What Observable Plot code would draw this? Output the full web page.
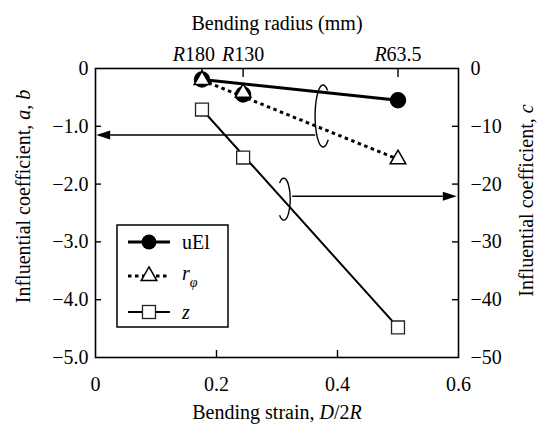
<!DOCTYPE html>
<html><head><meta charset="utf-8">
<script src="https://cdn.jsdelivr.net/npm/d3@7"></script>
<script src="https://cdn.jsdelivr.net/npm/@observablehq/plot@0.6"></script>
<style>body{margin:0;background:#fff}</style>
</head><body><div id="chart"></div>
<script>
// ---- data ----
const strain = [0.176, 0.244, 0.5];          // bending strain D/2R
const radiusLabels = ["R180", "R130", "R63.5"];
const uEl = [-0.19, -0.45, -0.55];           // coefficient a (left axis)
const rPhi = [-0.2, -0.42, -1.57];           // coefficient b (left axis)
const zC = [-7.1, -15.4, -44.8];             // coefficient c (right axis)
const xTicks = [0, 0.2, 0.4, 0.6];
const abTicks = [0, -1, -2, -3, -4, -5];
const cTicks = [0, -10, -20, -30, -40, -50];
const legendItems = ["uEl", "r_phi", "z"];
// annotation anchors (data units)
const leftArrow = {from: 0.364, to: 0.002, ab: -1.16};
const rightArrow = {from: 0.326, to: 0.598, c: -22.2};
const ringAB = {x: 0.377, ab: -0.83};
const ringC = {x: 0.312, c: -22.7};

const cScale = 10; // c axis = 10 x (a,b) axis
const rows = strain.map((x, i) => ({x, uEl: uEl[i], rPhi: rPhi[i], z: zC[i] / cScale}));
const ends = [rows[0], rows[rows.length - 1]];

const FONT = "Liberation Serif, DejaVu Serif, serif";
const W = 537, H = 425, mT = 68, mB = 68, mL = 95, mR = 79;
const innerH = H - mT - mB, innerW = W - mL - mR;
const fmtAB = d => d === 0 ? "0" : d3.format(".1f")(d);
const fmtC = d => d === 0 ? "0" : d3.format("d")(Math.round(d * cScale));

const chart = Plot.plot({
  width: W, height: H,
  marginTop: mT, marginBottom: mB, marginLeft: mL, marginRight: mR,
  style: {fontSize: "20px", background: "white", color: "black", overflow: "visible"},
  x: {domain: [0, 0.6]},
  y: {domain: [-5, 0]},
  marks: [
    Plot.frame({stroke: "black", strokeWidth: 1.6}),
    // inward ticks
    Plot.tickX([0.2, 0.4], {x: d => d, insetTop: innerH - 7, stroke: "black", strokeWidth: 1.4}),
    Plot.tickX(strain, {x: d => d, insetBottom: innerH - 9, stroke: "black", strokeWidth: 1.4}),
    Plot.tickY(abTicks.slice(1, -1), {y: d => d, insetRight: innerW - 6, stroke: "black", strokeWidth: 1.4}),
    Plot.tickY(abTicks.slice(1, -1), {y: d => d, insetLeft: innerW - 6, stroke: "black", strokeWidth: 1.4}),
    // axes (labels only)
    Plot.axisX({anchor: "bottom", ticks: xTicks, tickSize: 0, tickPadding: 19, tickFormat: d => d === 0 ? "0" : d3.format(".1f")(d), label: null}),
    Plot.axisX({anchor: "top", ticks: strain, tickSize: 0, tickPadding: 8, tickFormat: d => radiusLabels[strain.indexOf(d)], label: null}),
    Plot.axisY({anchor: "left", ticks: abTicks, tickSize: 0, tickPadding: 7, tickFormat: fmtAB, label: null}),
    Plot.axisY({anchor: "right", ticks: abTicks, tickSize: 0, tickPadding: 12, textAnchor: "start", tickFormat: fmtC, label: null}),
    // axis titles
    Plot.text(["Bending radius (mm)"], {frameAnchor: "top", text: d => d, textAnchor: "middle", lineAnchor: "middle", dy: -45}),
    Plot.text(["Bending strain, D/2R"], {frameAnchor: "bottom", text: d => d, textAnchor: "middle", lineAnchor: "middle", dy: 55}),
    Plot.text(["Influential coefficient, a, b"], {frameAnchor: "left", text: d => d, textAnchor: "middle", lineAnchor: "middle", rotate: -90, dx: -71.5, dy: -16.5}),
    Plot.text(["Influential coefficient, c"], {frameAnchor: "right", text: d => d, textAnchor: "middle", lineAnchor: "middle", rotate: -90, dx: 67.6, dy: -12.5}),
    // series lines
    Plot.line(ends, {x: "x", y: "uEl", stroke: "black", strokeWidth: 3}),
    Plot.line(ends, {x: "x", y: "rPhi", stroke: "black", strokeWidth: 3, strokeLinecap: "butt", strokeDasharray: "3.5,3.5"}),
    Plot.line(ends, {x: "x", y: "z", stroke: "black", strokeWidth: 2}),
    // markers
    Plot.dot(rows, {x: "x", y: "uEl", r: 7.5, fill: "black", stroke: "black"}),
    Plot.dot(rows, {x: "x", y: "rPhi", symbol: "triangle", r: 5.8, fill: "white", stroke: "black", strokeWidth: 1.5}),
    Plot.dot(rows, {x: "x", y: "z", symbol: "square", r: 7.3, fill: "white", stroke: "#222", strokeWidth: 1.3})
  ]
});

const NS = "http://www.w3.org/2000/svg";
function rich(svg, plain, parts, shift) {
  svg.querySelectorAll("text").forEach(t => {
    if (t.textContent === plain) {
      t.textContent = "";
      parts.forEach(p => {
        const ts = document.createElementNS(NS, "tspan");
        ts.textContent = p[0];
        if (p[1]) ts.setAttribute("font-style", "italic");
        t.appendChild(ts);
      });
      if (shift) t.setAttribute("dx", shift);
    }
  });
}
radiusLabels.forEach((l, i) => rich(chart, l, [["R", 1], [l.slice(1)]], i === 0 ? -8 : 0));
rich(chart, "Bending strain, D/2R", [["Bending strain, "], ["D", 1], ["/2"], ["R", 1]]);
rich(chart, "Influential coefficient, a, b", [["Influential coefficient, "], ["a", 1], [", "], ["b", 1]]);
rich(chart, "Influential coefficient, c", [["Influential coefficient, "], ["c", 1]]);

// ---- annotations & legend (d3, using Plot's scales) ----
const sx = chart.scale("x").apply, sy = chart.scale("y").apply;
const g = d3.select(chart).append("g");

function arc(cx, cy, rx, ry, a0, a1, sweep) {
  const p = a => [cx + rx * Math.cos(a * Math.PI / 180), cy + ry * Math.sin(a * Math.PI / 180)];
  const [x0, y0] = p(a0), [x1, y1] = p(a1);
  return `M${x0},${y0}A${rx},${ry} 0 1 ${sweep} ${x1},${y1}`;
}
// rings
g.append("path").attr("d", arc(sx(ringAB.x), sy(ringAB.ab), 8, 31, 305, 50, 0))
  .attr("fill", "none").attr("stroke", "black").attr("stroke-width", 1.4);
g.append("path").attr("d", arc(sx(ringC.x), sy(ringC.c / cScale), 6.5, 21, 230, 490, 1))
  .attr("fill", "none").attr("stroke", "black").attr("stroke-width", 1.4);
// arrows
function arrow(x1, x2, y) {
  const dir = Math.sign(x2 - x1), L = 14, hw = 4.5;
  g.append("line").attr("x1", x1).attr("x2", x2 - dir * L).attr("y1", y).attr("y2", y)
    .attr("stroke", "black").attr("stroke-width", 1.5);
  g.append("path").attr("d", `M${x2},${y}L${x2 - dir * L},${y - hw}L${x2 - dir * L},${y + hw}Z`).attr("fill", "black");
}
arrow(sx(leftArrow.from), sx(leftArrow.to), sy(leftArrow.ab));
arrow(sx(rightArrow.from), sx(rightArrow.to), sy(rightArrow.c / cScale));

// legend
const lg = g.append("g");
lg.append("rect").attr("x", 117).attr("y", 225).attr("width", 111).attr("height", 102)
  .attr("fill", "white").attr("stroke", "black").attr("stroke-width", 1.5);
const ly = [242, 276, 312];
const lx0 = 128, lx1 = 170, lxm = 149, ltx = 182;
lg.append("line").attr("x1", lx0).attr("x2", lx1).attr("y1", ly[0]).attr("y2", ly[0]).attr("stroke", "black").attr("stroke-width", 3);
lg.append("circle").attr("cx", lxm).attr("cy", ly[0]).attr("r", 7.5).attr("fill", "black");
lg.append("line").attr("x1", lx0).attr("x2", lx1).attr("y1", ly[1]).attr("y2", ly[1]).attr("stroke", "black").attr("stroke-width", 3).attr("stroke-dasharray", "3.5,3.5");
lg.append("path").attr("transform", `translate(${lxm},${ly[1]})`).attr("d", d3.symbol(d3.symbolTriangle, Math.PI * 5.8 * 5.8)())
  .attr("fill", "white").attr("stroke", "black").attr("stroke-width", 1.5);
lg.append("line").attr("x1", lx0).attr("x2", lx1).attr("y1", ly[2]).attr("y2", ly[2]).attr("stroke", "black").attr("stroke-width", 2);
lg.append("rect").attr("x", lxm - 6.5).attr("y", ly[2] - 6.5).attr("width", 13).attr("height", 13)
  .attr("fill", "white").attr("stroke", "#222").attr("stroke-width", 1.3);
const lt = lg.append("g").attr("font-size", 20).attr("text-anchor", "start");
lt.append("text").attr("x", ltx).attr("y", ly[0] + 6.5).text(legendItems[0]);
const t2 = lt.append("text").attr("x", ltx).attr("y", ly[1] + 4);
t2.append("tspan").attr("font-style", "italic").text("r");
t2.append("tspan").attr("font-style", "italic").attr("font-size", 14).attr("dy", 7).text("\u03C6");
lt.append("text").attr("x", ltx).attr("y", ly[2] + 6.5).attr("font-style", "italic").text(legendItems[2]);

// font for every text
chart.setAttribute("font-family", FONT);
chart.style.fontFamily = FONT;
chart.querySelectorAll("text, tspan").forEach(t => t.setAttribute("font-family", FONT));

document.getElementById("chart").appendChild(chart);
</script>
</body></html>
